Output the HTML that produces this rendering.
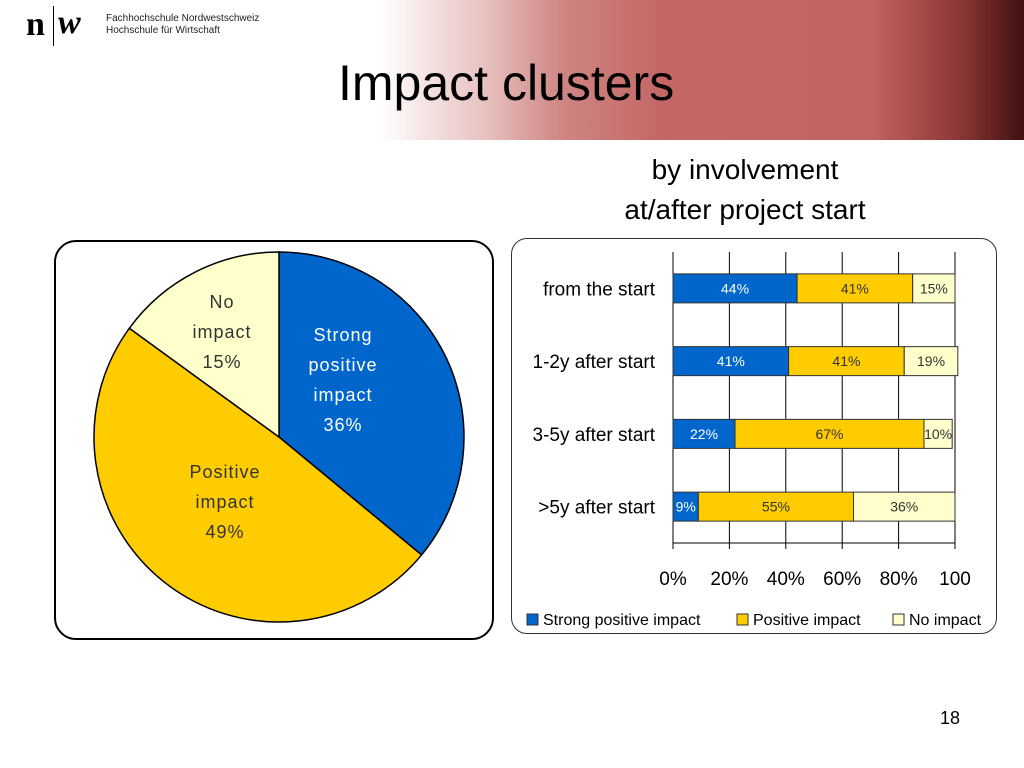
<!DOCTYPE html>
<html><head><meta charset="utf-8"><style>
body{margin:0;width:1024px;height:768px;background:#fff;font-family:"Liberation Sans",sans-serif;position:relative;overflow:hidden}
.abs{position:absolute}
</style></head><body>
<div class="abs" style="left:0;top:0;width:1024px;height:140px;background:linear-gradient(90deg,#fff 0%,#fff 37%,#e8c4c2 47%,#cf8583 55%,#c36664 65%,#c26462 85%,#8a3535 94%,#401010 100%)"></div>
<div class="abs" style="left:26px;top:6px;font-family:'Liberation Serif',serif;font-size:34px;font-weight:bold">n</div>
<div class="abs" style="left:53px;top:6px;width:1px;height:40px;background:#000"></div>
<div class="abs" style="left:58px;top:4px;font-family:'Liberation Serif',serif;font-size:34px;font-style:italic;font-weight:bold">w</div>
<div class="abs" style="left:106px;top:13px;font-size:10px;line-height:12px;color:#222">Fachhochschule Nordwestschweiz<br>Hochschule für Wirtschaft</div>
<div class="abs" style="left:338px;top:54px;font-size:50px;color:#000">Impact clusters</div>
<div class="abs" style="left:560px;top:150px;width:370px;text-align:center;font-size:28px;line-height:40px">by involvement<br>at/after project start</div>
<div class="abs" style="left:54px;top:240px;width:436px;height:396px;border:2px solid #000;border-radius:22px"></div>
<div class="abs" style="left:511px;top:238px;width:484px;height:394px;border:1.5px solid #333;border-radius:16px"></div>
<div class="abs" style="left:940px;top:708px;font-size:18px">18</div>
<svg class="abs" style="left:0;top:0" width="1024" height="768" id="svg"></svg>
<script>
const pieLabels=["Strong positive impact","Positive impact","No impact"];
const pieValues=[36,49,15];
const colors=["#0066cc","#ffcc00","#ffffcc"];
const barCats=["from the start","1-2y after start","3-5y after start",">5y after start"];
const barStrong=[44,41,22,9];
const barPositive=[41,41,67,55];
const barNone=[15,19,10,36];
const xTicks=["0%","20%","40%","60%","80%","100"];
const NS="http://www.w3.org/2000/svg";
const svg=document.getElementById('svg');
function mk(t,a,txt){const e=document.createElementNS(NS,t);for(const k in a)e.setAttribute(k,a[k]);if(txt!=null)e.textContent=txt;svg.appendChild(e);return e;}
// pie
const cx=279,cy=437,r=185;let acc=0;const tot=pieValues.reduce((a,b)=>a+b,0);
const pieText=[["Strong","positive","impact","36%"],["Positive","impact","49%"],["No","impact","15%"]];
const labPos=[[343,341],[225,478],[222,308]];
pieValues.forEach((v,i)=>{const a0=acc/tot*2*Math.PI;acc+=v;const a1=acc/tot*2*Math.PI;
const x0=cx+r*Math.sin(a0),y0=cy-r*Math.cos(a0),x1=cx+r*Math.sin(a1),y1=cy-r*Math.cos(a1);
const p=mk('path',{d:`M${cx},${cy}L${x0},${y0}A${r},${r} 0 ${(a1-a0)>Math.PI?1:0} 1 ${x1},${y1}Z`,fill:colors[i],stroke:'#000','stroke-width':1.5});


pieText[i].forEach((t,j)=>{const tx=mk('text',{x:labPos[i][0],y:labPos[i][1]+j*30,'text-anchor':'middle','font-size':18,fill:i==0?'#fff':'#333','letter-spacing':'1'},t);

});
});
// bars
const X0=673,X1=955,plotTop=252,plotBot=543;const xs=v=>X0+(X1-X0)*v/100;
const rowH=(plotBot-plotTop)/barCats.length;
for(let k=0;k<=5;k++){const x=xs(k*20);const g=mk('line',{x1:x,x2:x,y1:plotTop,y2:plotBot+6,stroke:'#000','stroke-width':1});


const t=mk('text',{x:x,y:585,'text-anchor':'middle','font-size':19},xTicks[k]);

}
const ax=mk('line',{x1:X0,x2:X1,y1:plotBot,y2:plotBot,stroke:'#000'});


barCats.forEach((c,i)=>{const yc=plotTop+rowH*(i+0.5);const h=29;
const cl=mk('text',{x:655,y:yc+7,'text-anchor':'end','font-size':19},c);


let s=0;[barStrong[i],barPositive[i],barNone[i]].forEach((v,j)=>{
const rc=mk('rect',{x:xs(s),y:yc-h/2,width:xs(s+v)-xs(s),height:h,fill:colors[j],stroke:'#333','stroke-width':1});


const t=mk('text',{x:(xs(s)+xs(s+v))/2,y:yc+5,'text-anchor':'middle','font-size':14,fill:j==0?'#fff':'#333'},v+'%');


s+=v;});});
// legend
const leg=[[527,"Strong positive impact"],[737,"Positive impact"],[893,"No impact"]];
leg.forEach((l,i)=>{const r2=mk('rect',{x:l[0],y:614,width:11,height:11,fill:colors[i],stroke:'#333'});


const t=mk('text',{x:l[0]+16,y:625,'font-size':16},l[1]);

});
</script>
</body></html>
